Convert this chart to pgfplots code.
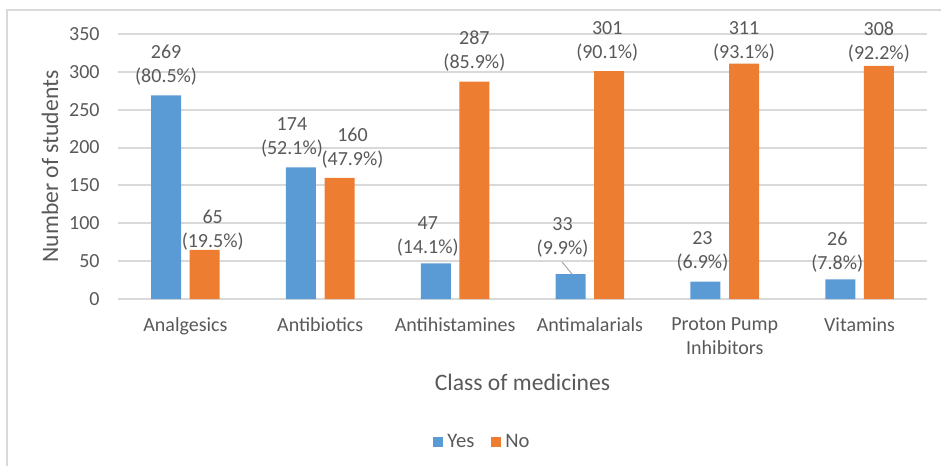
\documentclass[border=0pt]{standalone}
\usepackage{fontspec}
\setmainfont{Carlito}
\usepackage{pgfplots}
\usepackage{pgfplotstable}
\pgfplotsset{compat=1.18}
\pgfkeys{/pgf/number format/assume math mode=true}
\definecolor{cblue}{HTML}{5B9BD5}
\definecolor{corange}{HTML}{ED7D31}
\definecolor{cgrid}{HTML}{D9D9D9}
\definecolor{ctext}{HTML}{595959}
\pgfplotstableread{
x yes ypct ydx ydy no npct ndx ndy
0 269 80.5 0 0 65 19.5 4 -5
1 174 52.1 -4.5 0 160 47.9 6.5 0
2 47 14.1 -4 -1.5 287 85.9 0 0
3 33 9.9 -4 3.5 301 90.1 -1 0
4 23 6.9 -1.5 0 311 93.1 0 -4
5 26 7.8 -1.5 -1.5 308 92.2 0 -3
}\datatable
\begin{document}
\begin{tikzpicture}
\useasboundingbox (-59pt,-83.5pt) rectangle (411.5pt,149.5pt);
\begin{axis}[
  at={(0,0)}, anchor=south west,
  scale only axis, width=404.5pt, height=132.5pt,
  xmin=-0.5, xmax=5.5, ymin=0, ymax=350,
  ytick={0,50,...,350},
  xtick={0,...,5},
  xticklabels={Analgesics, Antibiotics, Antihistamines, Antimalarials, {Proton Pump\\Inhibitors}, Vitamins},
  axis line style={draw=none},
  major tick length=0pt,
  /pgf/number format/assume math mode=true,
  ymajorgrids, grid style={cgrid, line width=1pt},
  tick label style={font=\fontsize{10}{12}\selectfont, text=ctext},
  xticklabel style={align=center, anchor=north, inner sep=0pt, yshift=-9pt},
  yticklabel style={anchor=east, inner sep=0pt, xshift=-9pt},
  xlabel={Class of medicines}, ylabel={Number of students},
  every axis x label/.style={at={(axis description cs:0.5,0)}, yshift=-41.5pt, anchor=center, font=\fontsize{11.8}{14}\selectfont, text=ctext},
  every axis y label/.style={at={(axis description cs:0,0.5)}, xshift=-34pt, rotate=90, anchor=center, font=\fontsize{11.8}{14}\selectfont, text=ctext},
  legend style={at={(0.4518,-0.5396)}, anchor=center, draw=none, fill=none,
    legend columns=2, font=\fontsize{10.3}{12}\selectfont, text=ctext,
    /tikz/every even column/.append style={column sep=6.5pt}},
  legend image code/.code={\fill[#1] (0pt,-2.5pt) rectangle (5pt,2.5pt);},
]
\addplot[ybar, bar width=15pt, bar shift=-9.65pt, fill=cblue, draw=none,
  nodes near coords={\pgfmathprintnumber{\pgfplotspointmeta}\\(\pgfmathprintnumber[fixed,precision=1,fixed zerofill]{\pct}\%)},
  visualization depends on={\thisrow{ypct}\as\pct},
  visualization depends on={\thisrow{ydx}-9.65\as\dx},
  visualization depends on={\thisrow{ydy}+4.8\as\dy},
  every node near coord/.append style={align=center, font=\fontsize{10}{12}\selectfont, text=ctext, anchor=south, inner sep=0pt, xshift=\dx pt, yshift=\dy pt}
] table[x=x, y=yes]{\datatable};
\addlegendentry{Yes}
\addplot[ybar, bar width=15pt, bar shift=9.65pt, fill=corange, draw=none,
  nodes near coords={\pgfmathprintnumber{\pgfplotspointmeta}\\(\pgfmathprintnumber[fixed,precision=1,fixed zerofill]{\pct}\%)},
  visualization depends on={\thisrow{npct}\as\pct},
  visualization depends on={\thisrow{ndx}+9.65\as\dx},
  visualization depends on={\thisrow{ndy}+4.8\as\dy},
  every node near coord/.append style={align=center, font=\fontsize{10}{12}\selectfont, text=ctext, anchor=south, inner sep=0pt, xshift=\dx pt, yshift=\dy pt}
] table[x=x, y=no]{\datatable};
\addlegendentry{No}
\draw[color=black!35, line width=0.5pt] (axis cs:2.793,49) -- (axis cs:2.867,33);
\end{axis}
\draw[cgrid, line width=1pt] (-55.5pt,-83.5pt) -- (-55.5pt,144.5pt) -- (411.5pt,144.5pt);
\end{tikzpicture}
\end{document}
